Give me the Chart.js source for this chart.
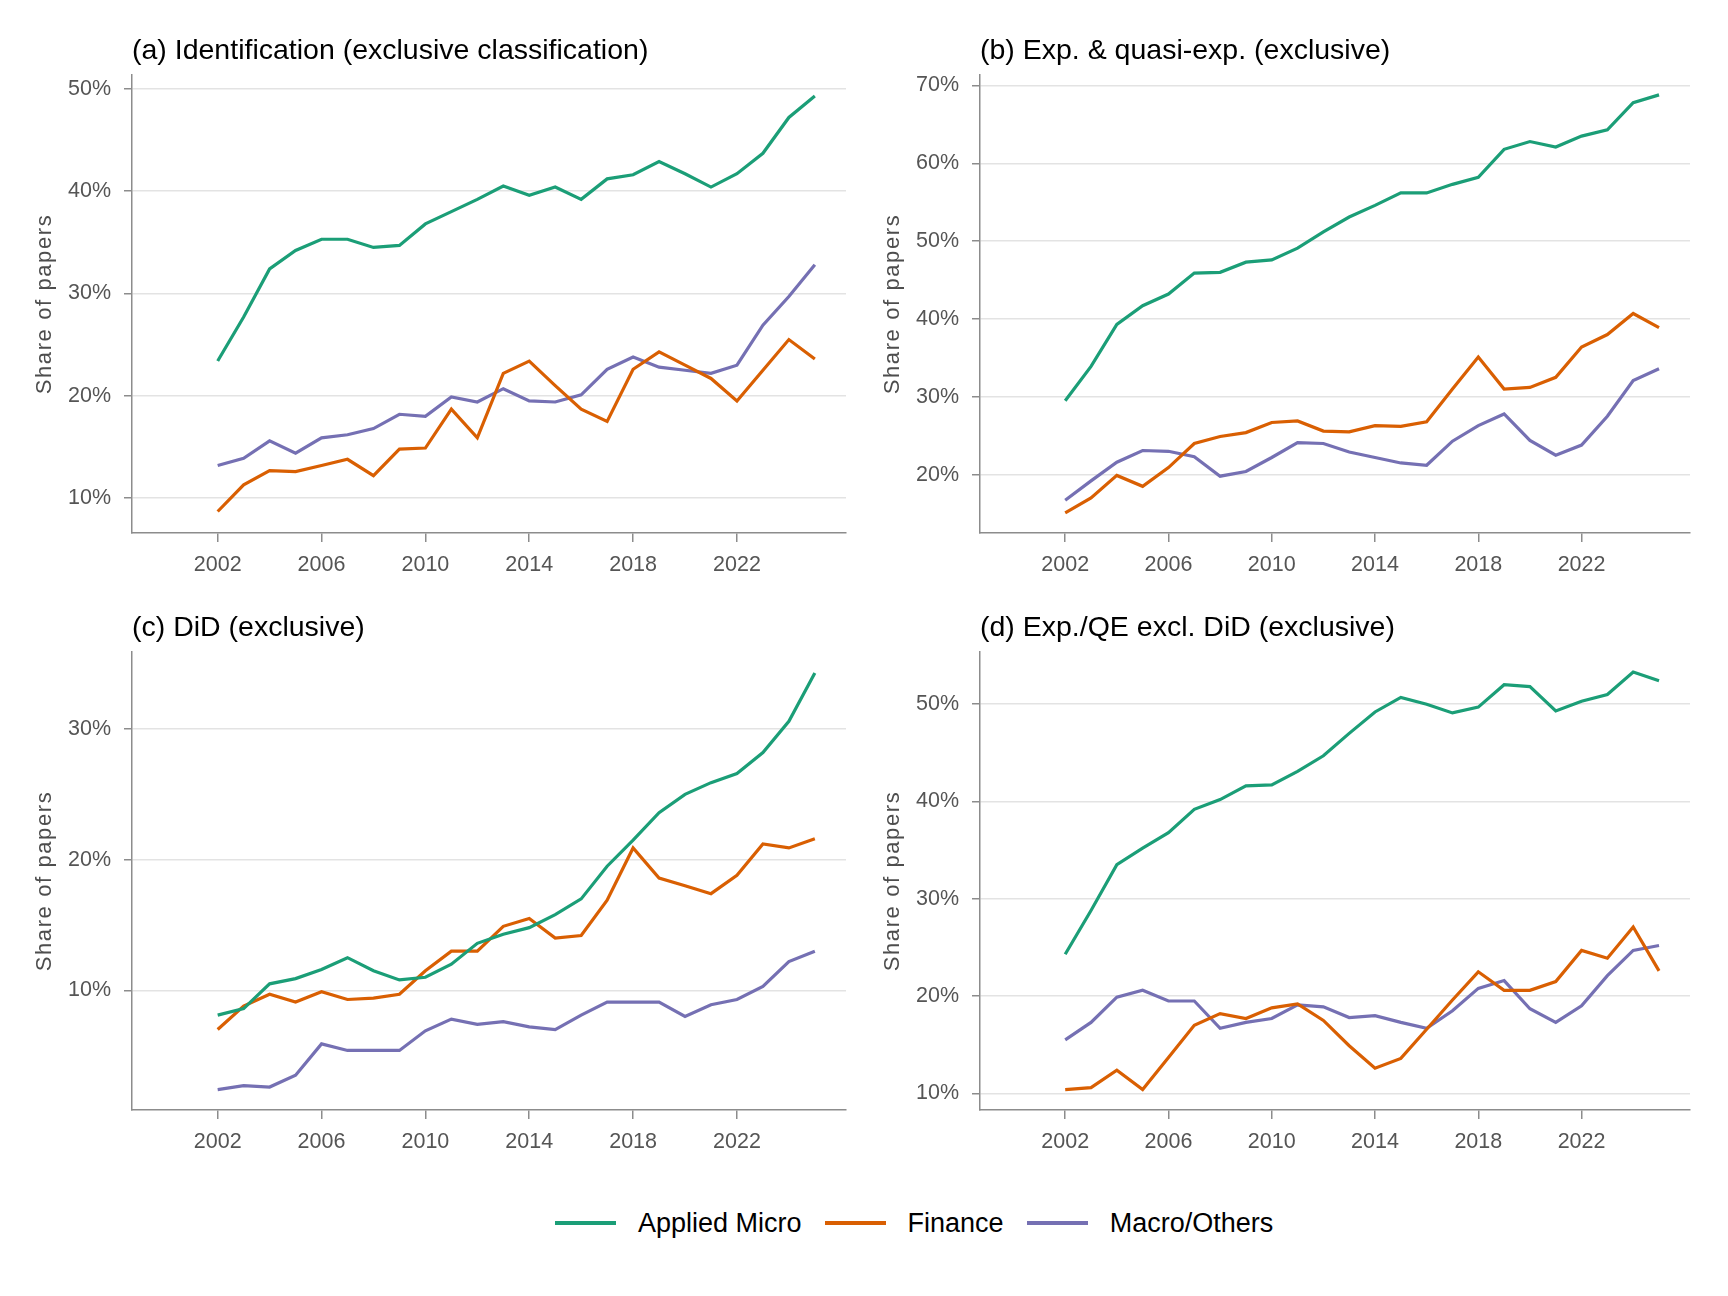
<!DOCTYPE html>
<html>
<head>
<meta charset="utf-8">
<script src="https://cdn.jsdelivr.net/npm/chart.js@4.4.1/dist/chart.umd.min.js"></script>
<style>
  body{margin:0;background:#fff;width:1728px;height:1296px;position:relative;overflow:hidden;font-family:"Liberation Sans",Arial,sans-serif}
  .panel{position:absolute;width:864px;height:600px}
  #legend{position:absolute;left:555px;top:1205px;height:36px;display:flex;align-items:center;font-size:27px;color:#000}
  #legend .sw{width:61px;height:4px;margin-right:22px}
  #legend .lab{margin-right:23px}
</style>
</head>
<body>
<canvas id="pa" class="panel" width="864" height="600" style="left:0;top:0"></canvas>
<canvas id="pb" class="panel" width="864" height="600" style="left:848px;top:0"></canvas>
<canvas id="pc" class="panel" width="864" height="600" style="left:0;top:577px"></canvas>
<canvas id="pd" class="panel" width="864" height="600" style="left:848px;top:577px"></canvas>
<div id="legend"></div>
<script>
// data
const years = [2002,2003,2004,2005,2006,2007,2008,2009,2010,2011,2012,2013,2014,2015,2016,2017,2018,2019,2020,2021,2022,2023,2024,2025];
const xTicks = [2002,2006,2010,2014,2018,2022];
const seriesNames = ['Applied Micro','Finance','Macro/Others'];
const seriesColors = ['#1B9E77','#D95F02','#7570B3'];

// (a) identification
const idMicro   = [23.4,27.7,32.4,34.2,35.3,35.3,34.5,34.7,36.8,38.0,39.2,40.5,39.6,40.4,39.2,41.2,41.6,42.9,41.7,40.4,41.7,43.7,47.2,49.3];
const idFinance = [8.7,11.3,12.7,12.6,13.2,13.8,12.2,14.8,14.9,18.7,15.9,22.2,23.4,21.0,18.7,17.5,22.6,24.3,23.0,21.7,19.5,22.5,25.5,23.6];
const idMacro   = [13.2,13.9,15.6,14.4,15.9,16.2,16.8,18.2,18.0,19.9,19.4,20.7,19.5,19.4,20.1,22.6,23.8,22.8,22.5,22.2,23.0,26.9,29.7,32.8];
const idTicks = [10,20,30,40,50];

// (b) exp & quasi-exp
const expMicro   = [29.5,33.9,39.3,41.7,43.2,45.9,46.0,47.3,47.6,49.1,51.2,53.1,54.6,56.2,56.2,57.3,58.2,61.8,62.8,62.1,63.5,64.3,67.8,68.8];
const expFinance = [15.1,17.0,19.9,18.5,20.9,24.0,24.9,25.4,26.7,26.9,25.6,25.5,26.3,26.2,26.8,31.0,35.1,31.0,31.2,32.5,36.4,38.0,40.7,38.9];
const expMacro   = [16.7,19.2,21.6,23.1,23.0,22.3,19.8,20.4,22.2,24.1,24.0,22.9,22.2,21.5,21.2,24.3,26.3,27.8,24.4,22.5,23.8,27.5,32.1,33.6];
const expTicks = [20,30,40,50,60,70];

// (c) DiD
const didMicro   = [8.1,8.6,10.5,10.9,11.6,12.5,11.5,10.8,11.0,12.0,13.6,14.3,14.8,15.8,17.0,19.5,21.5,23.6,25.0,25.9,26.6,28.2,30.6,34.3];
const didFinance = [7.0,8.8,9.7,9.1,9.9,9.3,9.4,9.7,11.5,13.0,13.0,14.9,15.5,14.0,14.2,16.9,20.9,18.6,18.0,17.4,18.8,21.2,20.9,21.6];
const didMacro   = [2.4,2.7,2.6,3.5,5.9,5.4,5.4,5.4,6.9,7.8,7.4,7.6,7.2,7.0,8.1,9.1,9.1,9.1,8.0,8.9,9.3,10.3,12.2,13.0];
const didTicks = [10,20,30];

// (d) Exp/QE excl. DiD
const qeMicro   = [24.3,28.8,33.5,35.2,36.8,39.2,40.2,41.6,41.7,43.1,44.7,47.0,49.2,50.7,50.0,49.1,49.7,52.0,51.8,49.3,50.3,51.0,53.3,52.4];
const qeFinance = [10.4,10.6,12.4,10.4,13.7,17.0,18.2,17.7,18.8,19.2,17.5,14.9,12.6,13.6,16.6,19.6,22.5,20.6,20.6,21.5,24.7,23.9,27.1,22.6];
const qeMacro   = [15.5,17.3,19.9,20.6,19.5,19.5,16.7,17.3,17.7,19.1,18.9,17.8,18.0,17.3,16.7,18.5,20.8,21.6,18.7,17.3,19.0,22.1,24.7,25.2];
const qeTicks = [10,20,30,40,50];

const FONT = '"Liberation Sans", Arial, sans-serif';
const AXIS = '#8c8c8c';
const TICKTXT = '#555555';

// title + rotated axis label drawn on top of each panel
const panelText = {
  id:'panelText',
  afterDraw(chart, args, opts){
    const {ctx, chartArea} = chart;
    ctx.save();
    ctx.fillStyle = '#000';
    ctx.font = '28.5px ' + FONT;
    ctx.textAlign = 'left';
    ctx.textBaseline = 'alphabetic';
    ctx.fillText(opts.title, chartArea.left, 59);
    ctx.translate(45, (chartArea.top + chartArea.bottom)/2);
    ctx.rotate(-Math.PI/2);
    ctx.font = '22px ' + FONT;
    ctx.letterSpacing = '1.6px';
    ctx.fillStyle = '#4d4d4d';
    ctx.textAlign = 'center';
    ctx.textBaseline = 'middle';
    ctx.fillText('Share of papers', 0, 0);
    ctx.restore();
  }
};

function makePanel(id, title, series, yMin, yMax, yTicks, padRight){
  const datasets = series.map((vals, i)=>({
    label: seriesNames[i],
    data: years.map((yr, j)=>({x: yr, y: vals[j]})),
    borderColor: seriesColors[i],
    backgroundColor: seriesColors[i],
    borderWidth: 3.2,
    pointRadius: 0,
    tension: 0
  }));
  new Chart(document.getElementById(id).getContext('2d'), {
    type:'line',
    data:{ datasets },
    options:{
      responsive:false,
      animation:false,
      devicePixelRatio:1,
      layout:{ padding:{ top:75, right:padRight, left:0, bottom:0 } },
      plugins:{ legend:{display:false}, tooltip:{enabled:false}, panelText:{ title } },
      scales:{
        x:{
          type:'linear', min:1998.7, max:2026.2,
          afterBuildTicks: s=>{ s.ticks = xTicks.map(v=>({value:v})); },
          afterFit: s=>{ s.height = 67; },
          border:{ color:AXIS, width:1.5 },
          grid:{ drawOnChartArea:false, color:AXIS, tickColor:AXIS, tickLength:9, lineWidth:1.5 },
          ticks:{ padding:10, color:TICKTXT, font:{ size:21.5, family:FONT }, callback: v=>String(v), maxRotation:0 }
        },
        y:{
          min:yMin, max:yMax,
          afterBuildTicks: s=>{ s.ticks = yTicks.map(v=>({value:v})); },
          afterFit: s=>{ s.width = 132; },
          border:{ color:AXIS, width:1.5 },
          grid:{ color:'#e3e3e3', lineWidth:1.5, tickColor:AXIS, tickLength:8 },
          ticks:{ padding:13, color:TICKTXT, font:{ size:21.5, family:FONT }, callback: v=>v + '%' }
        }
      }
    },
    plugins:[panelText]
  });
}

makePanel('pa', '(a) Identification (exclusive classification)', [idMicro, idFinance, idMacro], 6.6, 51.35, idTicks, 18);
makePanel('pb', '(b) Exp. & quasi-exp. (exclusive)', [expMicro, expFinance, expMacro], 12.5, 71.35, expTicks, 22);
makePanel('pc', '(c) DiD (exclusive)', [didMicro, didFinance, didMacro], 0.84, 35.9, didTicks, 18);
makePanel('pd', '(d) Exp./QE excl. DiD (exclusive)', [qeMicro, qeFinance, qeMacro], 8.3, 55.36, qeTicks, 22);

const legend = document.getElementById('legend');
seriesNames.forEach((n, i)=>{
  const sw = document.createElement('span');
  sw.className = 'sw';
  sw.style.background = seriesColors[i];
  const lab = document.createElement('span');
  lab.className = 'lab';
  lab.textContent = n;
  legend.appendChild(sw);
  legend.appendChild(lab);
});
</script>
</body>
</html>
